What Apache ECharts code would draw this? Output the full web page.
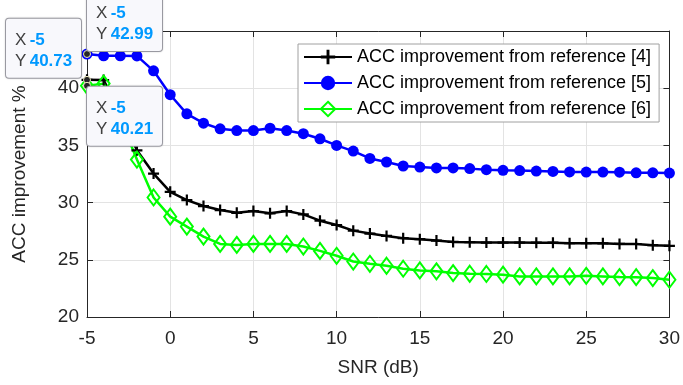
<!DOCTYPE html>
<html>
<head>
<meta charset="utf-8">
<script src="https://cdn.jsdelivr.net/npm/echarts@6/dist/echarts.min.js"></script>
<style>
html, body { margin: 0; padding: 0; background: #fff; }
#chart01 { width: 683px; height: 385px; }
</style>
</head>
<body>
<div id="chart01"></div>
<script>
var snr = [-5,-4,-3,-2,-1,0,1,2,3,4,5,6,7,8,9,10,11,12,13,14,15,16,17,18,19,20,21,22,23,24,25,26,27,28,29,30];
var ref4 = [40.73,40.71,37.8,34.57,32.54,30.94,30.22,29.70,29.35,29.11,29.26,29.06,29.26,28.97,28.42,28.04,27.55,27.29,27.09,26.89,26.80,26.68,26.56,26.54,26.51,26.51,26.51,26.50,26.50,26.45,26.45,26.44,26.39,26.38,26.28,26.22];
var ref5 = [42.99,42.83,42.83,42.82,41.52,39.43,37.76,36.94,36.45,36.30,36.30,36.50,36.30,36.02,35.58,35.00,34.50,33.86,33.55,33.20,33.11,33.03,33.03,32.97,32.88,32.82,32.80,32.76,32.72,32.68,32.67,32.67,32.66,32.60,32.60,32.58];
var ref6 = [40.21,40.40,37.3,33.76,30.45,28.77,27.90,27.03,26.39,26.30,26.39,26.39,26.39,26.16,25.78,25.35,24.85,24.65,24.48,24.22,24.07,23.99,23.84,23.78,23.76,23.70,23.55,23.55,23.55,23.55,23.60,23.55,23.49,23.48,23.40,23.26];
var names = ['ACC improvement from reference [4]', 'ACC improvement from reference [5]', 'ACC improvement from reference [6]'];

var font = 'Liberation Sans, Arial, sans-serif';
var plus = 'path://M4,0 L6,0 L6,4 L10,4 L10,6 L6,6 L6,10 L4,10 L4,6 L0,6 L0,4 L4,4 Z';

function pairs(vals) {
    return snr.map(function (x, i) { return [x, vals[i]]; });
}

// datatip box drawn as a markPoint label on the first point of a series
function tip(vals, offset, valign) {
    return {
        z: 10,
        symbol: 'circle',
        symbolSize: 7,
        itemStyle: { color: '#262626', borderColor: '#f0ecc0', borderWidth: 1 },
        label: {
            show: true,
            position: [3, 3],
            offset: offset,
            align: 'left',
            verticalAlign: valign,
            width: 55,
            backgroundColor: '#f8f8fc',
            borderColor: '#a0a0a8',
            borderWidth: 1,
            borderRadius: 3,
            padding: [11, 11, 6, 9],
            shadowColor: 'rgba(0,0,0,0.15)',
            shadowBlur: 2,
            fontFamily: font,
            formatter: function (p) {
                return '{k|X} {v|' + p.data.coord[0] + '}\n{k|Y} {v|' + p.data.coord[1].toFixed(2) + '}';
            },
            rich: {
                k: { fontSize: 17, color: '#404040', fontFamily: font, height: 21, lineHeight: 21 },
                v: { fontSize: 17, color: '#0099ff', fontWeight: 'bold', fontFamily: font, height: 21, lineHeight: 21 }
            }
        },
        data: [{ coord: [snr[0], vals[0]] }]
    };
}

var axisCommon = {
    axisLine: { show: true, onZero: false, lineStyle: { color: '#262626' } },
    axisTick: { show: true, inside: true, length: 6, lineStyle: { color: '#262626' } }
};

var myChart = echarts.init(document.getElementById('chart01'));
option = {
    animation: false,
    backgroundColor: '#fff',
    textStyle: { fontFamily: font },
    grid: { left: 87, right: 10, top: 31, bottom: 68 },
    legend: {
        data: names,
        orient: 'vertical',
        left: 298,
        top: 44,
        backgroundColor: '#fff',
        borderColor: '#a0a0a0',
        borderWidth: 1,
        padding: [4, 8, 4, 5],
        itemWidth: 48,
        itemHeight: 18,
        itemGap: 8,
        textStyle: { fontSize: 18, color: '#000', fontFamily: font }
    },
    xAxis: [Object.assign({
        type: 'value',
        min: -5, max: 30, interval: 5,
        name: 'SNR (dB)',
        nameLocation: 'middle',
        nameGap: 41,
        nameTextStyle: { fontSize: 19, color: '#262626', fontFamily: font },
        axisLabel: { fontSize: 19, color: '#262626', margin: 12, fontFamily: font },
        splitLine: { show: true, lineStyle: { color: '#e3e3e3' } }
    }, axisCommon), Object.assign({
        type: 'value', position: 'top',
        min: -5, max: 30, interval: 5,
        axisLabel: { show: false },
        splitLine: { show: false }
    }, axisCommon)],
    yAxis: [Object.assign({
        type: 'value',
        min: 20, max: 45, interval: 5,
        name: 'ACC improvement %',
        nameLocation: 'middle',
        nameGap: 58,
        nameTextStyle: { fontSize: 19, color: '#262626', fontFamily: font },
        axisLabel: { fontSize: 19, color: '#262626', margin: 8, fontFamily: font },
        splitLine: { show: true, lineStyle: { color: '#e3e3e3' } }
    }, axisCommon), Object.assign({
        type: 'value', position: 'right',
        min: 20, max: 45, interval: 5,
        axisLabel: { show: false },
        splitLine: { show: false }
    }, axisCommon)],
    series: [
        {
            name: names[0],
            type: 'line',
            data: pairs(ref4),
            symbol: plus,
            symbolSize: 11,
            showAllSymbol: true,
            lineStyle: { color: '#000', width: 2.5 },
            itemStyle: { color: '#000' },
            markPoint: tip(ref4, [-80, -1], 'bottom')
        },
        {
            name: names[1],
            type: 'line',
            data: pairs(ref5),
            symbol: 'circle',
            symbolSize: 11,
            showAllSymbol: true,
            lineStyle: { color: '#0000ff', width: 2.5 },
            itemStyle: { color: '#0000ff' },
            markPoint: tip(ref5, [1, -2], 'bottom')
        },
        {
            name: names[2],
            type: 'line',
            data: pairs(ref6),
            symbol: 'diamond',
            symbolSize: [12, 16],
            showAllSymbol: true,
            lineStyle: { color: '#00ff00', width: 2.5 },
            itemStyle: { color: 'rgba(0,0,0,0)', borderColor: '#00ff00', borderWidth: 2 },
            markPoint: tip(ref6, [1, 2], 'top')
        }
    ]
};
if (option && typeof option === "object") {
    myChart.setOption(option, true);
}
</script>
</body>
</html>
